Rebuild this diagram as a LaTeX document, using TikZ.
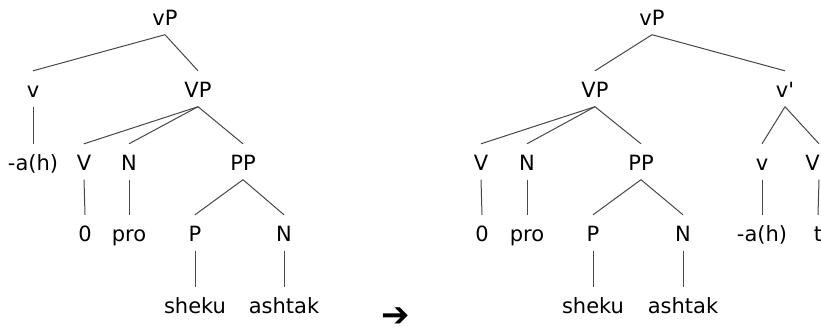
\documentclass[tikz,border=0pt]{standalone}
\usepackage{fontspec}
\newfontfamily\treefont{DejaVu Sans}
\begin{document}
\begin{tikzpicture}[x=1pt,y=-1pt,
  lab/.style={anchor=base,inner sep=0pt,text height=26pt,text depth=9.5pt,font=\treefont\fontsize{21}{25}\selectfont,text=black},
  edge/.style={draw=black!72,line width=1pt}]
\useasboundingbox (0,0) rectangle (821,333);
\clip (0,0) rectangle (821,333);
% left tree
\node[lab] (lvP) at (165,25) {vP};
\node[lab] (lv) at (33,97) {v};
\node[lab] (lVP) at (198,97) {VP};
\node[lab] (la) at (33,170) {-a(h)};
\node[lab] (lV) at (84,170) {V};
\node[lab] (lN) at (129,170) {N};
\node[lab] (lPP) at (243,170) {PP};
\node[lab] (l0) at (85,241) {0};
\node[lab] (lpro) at (129,241) {pro};
\node[lab] (lP) at (195,241) {P};
\node[lab] (lN2) at (284,241) {N};
\node[lab] (lsheku) at (195,313) {sheku};
\node[lab] (lashtak) at (284,313) {ashtak};
\draw[edge] (lvP.south) -- (lv.north);
\draw[edge] (lvP.south) -- (lVP.north);
\draw[edge] (lv.south) -- (la.north);
\draw[edge] (lVP.south) -- (lV.north);
\draw[edge] (lVP.south) -- (lN.north);
\draw[edge] (lVP.south) -- (lPP.north);
\draw[edge] (lV.south) -- (l0.north);
\draw[edge] (lN.south) -- (lpro.north);
\draw[edge] (lPP.south) -- (lP.north);
\draw[edge] (lPP.south) -- (lN2.north);
\draw[edge] (lP.south) -- (lsheku.north);
\draw[edge] (lN2.south) -- (lashtak.north);
% arrow
\node[inner sep=0pt,font=\treefont\bfseries\fontsize{34}{36}\selectfont] (arr) at (396,317) {➔};
% right tree
\node[lab] (rvP) at (652,25) {vP};
\node[lab] (rVP) at (595,97) {VP};
\node[lab] (rvbar) at (785,97) {v\textquotesingle};
\node[lab] (rV) at (481,170) {V};
\node[lab] (rN) at (527,170) {N};
\node[lab] (rPP) at (641,170) {PP};
\node[lab] (rv) at (762,170) {v};
\node[lab] (rVP2) at (819,170) {VP};
\node[lab] (r0) at (482,241) {0};
\node[lab] (rpro) at (527,241) {pro};
\node[lab] (rP) at (593,241) {P};
\node[lab] (rN2) at (683,241) {N};
\node[lab] (ra) at (762,241) {-a(h)};
\node[lab] (rt) at (818,241) {t};
\node[lab] (rsheku) at (593,313) {sheku};
\node[lab] (rashtak) at (683,313) {ashtak};
\draw[edge] (rvP.south) -- (rVP.north);
\draw[edge] (rvP.south) -- (rvbar.north);
\draw[edge] (rVP.south) -- (rV.north);
\draw[edge] (rVP.south) -- (rN.north);
\draw[edge] (rVP.south) -- (rPP.north);
\draw[edge] (rvbar.south) -- (rv.north);
\draw[edge] (rvbar.south) -- (rVP2.north);
\draw[edge] (rV.south) -- (r0.north);
\draw[edge] (rN.south) -- (rpro.north);
\draw[edge] (rPP.south) -- (rP.north);
\draw[edge] (rPP.south) -- (rN2.north);
\draw[edge] (rv.south) -- (ra.north);
\draw[edge] (rVP2.south) -- (rt.north);
\draw[edge] (rP.south) -- (rsheku.north);
\draw[edge] (rN2.south) -- (rashtak.north);
\end{tikzpicture}
\end{document}
